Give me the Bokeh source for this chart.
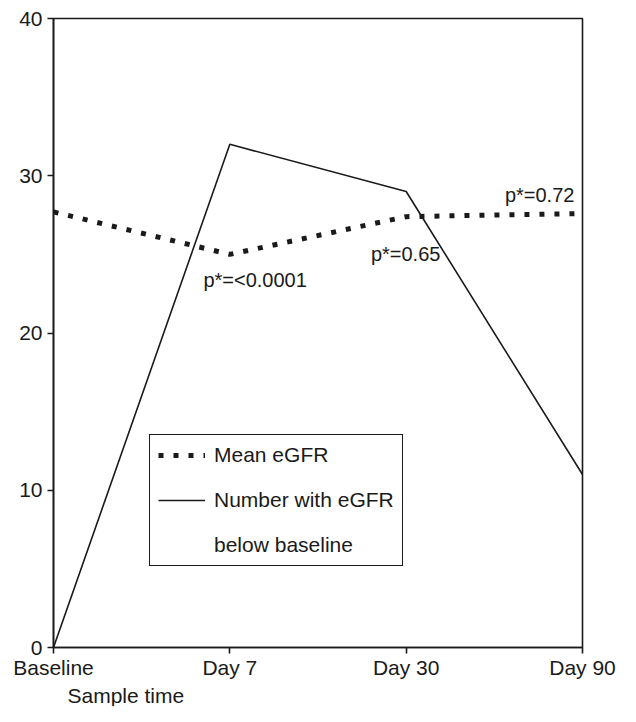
from bokeh.plotting import figure
from bokeh.models import Range1d, FixedTicker, Legend, LegendItem, Label, Title
from bokeh.embed import file_html
from bokeh.resources import INLINE

# ---- data ----
categories = ["Baseline", "Day 7", "Day 30", "Day 90"]
mean_egfr = [27.7, 25.0, 27.4, 27.6]
number_below = [0, 32, 29, 11]
y_ticks = [0, 10, 20, 30, 40]
p_labels = ["p*=<0.0001", "p*=0.65", "p*=0.72"]

# ---- layout helpers (positions of annotation texts, in data units) ----
p_label_x = [0.85, 1.80, 2.56]
p_label_y = [23.4, 25.0, 28.8]

FONT = "Liberation Sans"
INK = "#1a1a1a"

x = list(range(len(categories)))

p = figure(width=620, height=706,
           x_range=Range1d(0, len(categories) - 1), y_range=Range1d(0, 40),
           output_backend="svg", toolbar_location=None,
           min_border_left=53, min_border_right=38,
           min_border_top=18, min_border_bottom=50)
p.grid.visible = False
p.outline_line_color = INK
p.outline_line_width = 1.6
p.background_fill_color = "white"
p.border_fill_color = "white"

r_mean = p.line(x, mean_egfr, line_width=5, line_dash="5 10", line_color=INK)
r_num = p.line(x, number_below, line_width=1.6, line_color=INK)
r_blank = p.line(x, number_below, line_alpha=0)

for ax in (p.xaxis[0], p.yaxis[0]):
    ax.axis_line_color = INK
    ax.axis_line_width = 1.6
    ax.major_tick_line_color = INK
    ax.major_tick_line_width = 1.6
    ax.major_tick_out = 6
    ax.major_tick_in = 0
    ax.minor_tick_out = 0
    ax.minor_tick_in = 0
    ax.major_label_text_font = FONT
    ax.major_label_text_font_size = "21px"
    ax.major_label_text_color = INK

p.xaxis.ticker = FixedTicker(ticks=x)
p.xaxis.major_label_overrides = {i: c for i, c in zip(x, categories)}
p.xaxis.major_label_standoff = 2
p.yaxis.ticker = FixedTicker(ticks=y_ticks)
p.yaxis.major_label_standoff = 5

for txt, lx, ly in zip(p_labels, p_label_x, p_label_y):
    p.add_layout(Label(x=lx, y=ly, text=txt, text_font=FONT,
                       text_font_size="20px", text_color=INK,
                       text_align="left", text_baseline="middle"))

p.add_layout(Title(text="Sample time", align="left", offset=14, standoff=0,
                   text_font=FONT, text_font_size="21px",
                   text_font_style="normal", text_color=INK), "below")

legend = Legend(items=[
    LegendItem(label="Mean eGFR", renderers=[r_mean]),
    LegendItem(label="Number with eGFR", renderers=[r_num]),
    LegendItem(label="below baseline", renderers=[r_blank]),
], location=(96, 81), orientation="vertical",
    border_line_color=INK, border_line_width=1.6, border_line_alpha=1,
    background_fill_color="white", background_fill_alpha=1,
    label_text_font=FONT, label_text_font_size="21px", label_text_color=INK,
    glyph_width=47, glyph_height=24, label_height=24, label_standoff=9,
    spacing=21, padding=8, margin=0)
p.add_layout(legend)

open("out.html", "w").write(file_html(p, INLINE))
